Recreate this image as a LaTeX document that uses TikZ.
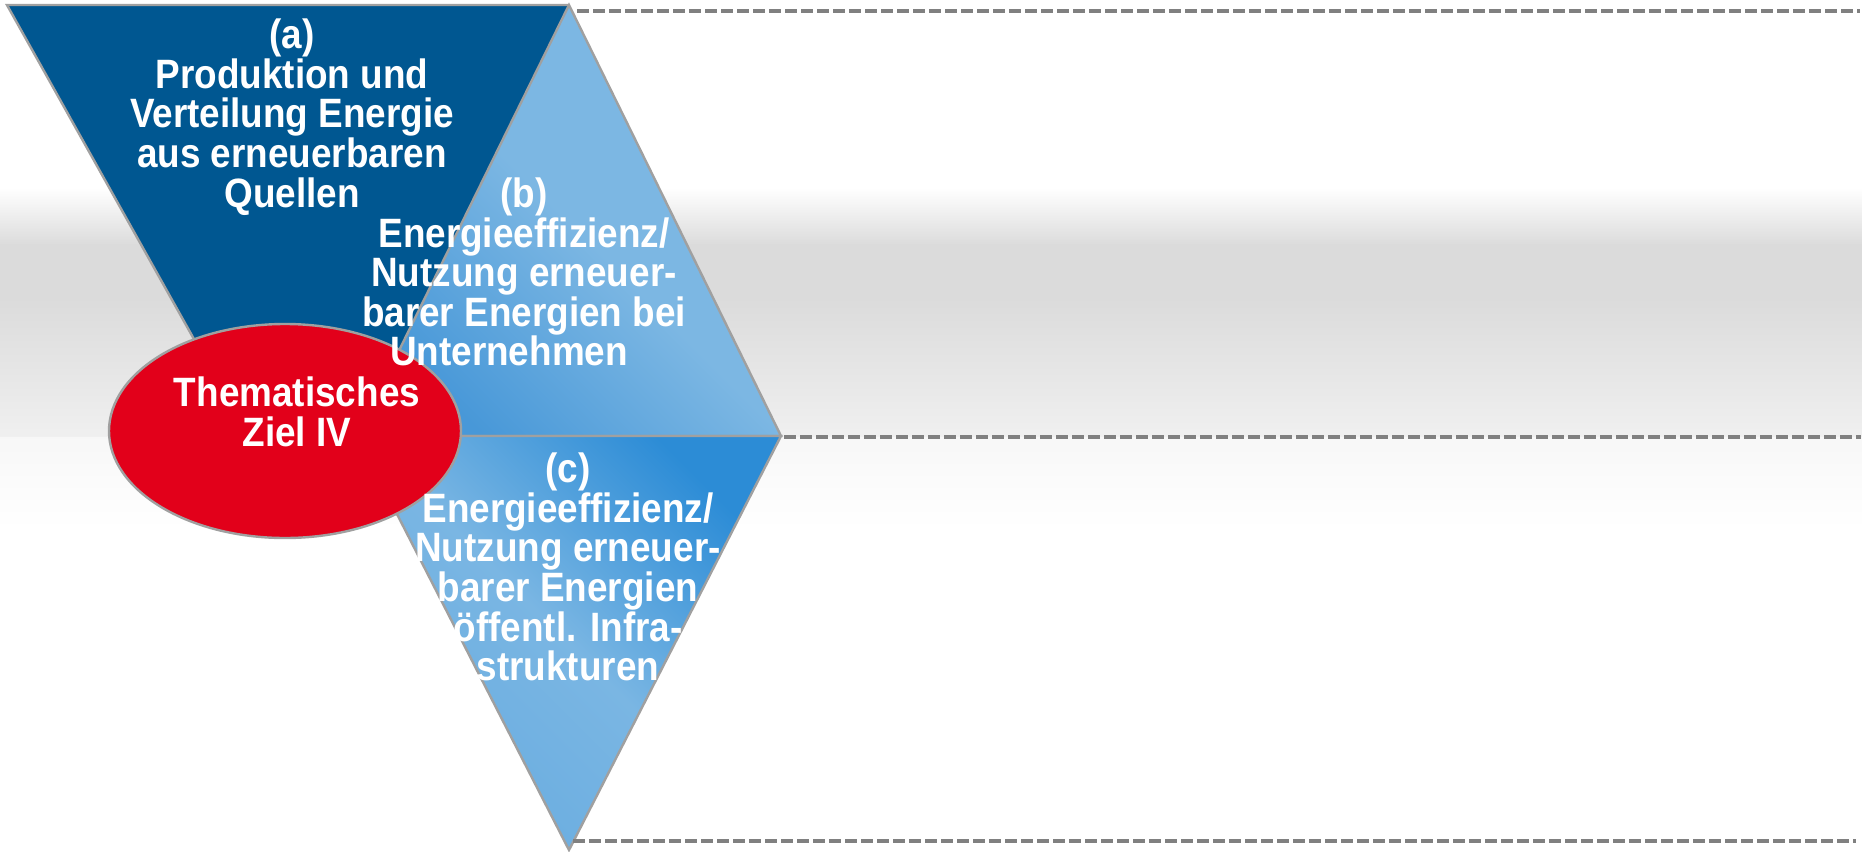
\documentclass[tikz,border=0pt]{standalone}
\usepackage{fontspec}
\newfontfamily\labfont{Liberation Sans}[FakeStretch=0.9]
\usetikzlibrary{shapes.geometric}
\definecolor{adark}{RGB}{0,87,145}
\definecolor{bdark}{RGB}{72,152,216}
\definecolor{blight}{RGB}{124,183,227}
\definecolor{cdark}{RGB}{44,140,214}
\definecolor{clight}{RGB}{122,182,227}
\definecolor{cmid}{RGB}{104,172,224}
\definecolor{zred}{RGB}{226,0,26}
\definecolor{edgegray}{RGB}{160,160,160}
\definecolor{dashgray}{RGB}{128,128,128}
\begin{document}
\begin{tikzpicture}[x=0.5pt,y=-0.5pt,
  shapeedge/.style={draw=edgegray, line width=1.2pt, line join=miter},
  lab/.style={text=white, align=center, font=\labfont\bfseries\fontsize{20.5pt}{19.8pt}\selectfont, inner sep=0pt},
  guide/.style={draw=dashgray, line width=2pt, dash pattern=on 6pt off 2pt}]
\useasboundingbox (0,0) rectangle (1862,851);
% background band
\shade[top color=white, bottom color=black!14] (0,188) rectangle (1862,245);
\fill[black!14] (0,244) rectangle (1862,300);
\shade[top color=black!14, bottom color=black!6] (0,299) rectangle (1862,437);
\shade[top color=black!3, bottom color=white] (0,437) rectangle (1862,530);
% vertices
\coordinate (aL) at (7,5);
\coordinate (top) at (569,5);
\coordinate (mL) at (357,436);
\coordinate (mR) at (781,436);
\coordinate (bot) at (569,850);
\coordinate (aBL) at (284,500);
\coordinate (aBR) at (325,500);
% triangle (a)
\fill[adark] (aL) -- (top) -- (aBR) -- (aBL) -- cycle;
\draw[shapeedge] (aBL) -- (aL) -- (top);
% triangle (b)
\shade[shapeedge, bottom color=bdark, top color=blight, middle color=blight, shading angle=-45] (top) -- (mR) -- (mL) -- cycle;
% triangle (c)
\shade[shapeedge, bottom color=cmid, top color=cdark, middle color=clight, shading angle=-45] (mL) -- (mR) -- (bot) -- cycle;
% ellipse
\node[ellipse, draw=edgegray, line width=1.2pt, fill=zred, minimum width=176pt, minimum height=107pt, inner sep=0pt] (goal) at (285,431) {};
% dashed guides
\coordinate (g1s) at (577,11);
\coordinate (g1e) at (1860,11);
\coordinate (g2s) at (784,437);
\coordinate (g2e) at (1861,437);
\coordinate (g3s) at (573,841);
\coordinate (g3e) at (1856,841);
\draw[guide] (g1s) -- (g1e);
\draw[guide] (g2s) -- (g2e);
\draw[guide] (g3s) -- (g3e);
% labels
\node[lab] (ta) at (292,117) {(a)\\Produktion und\\Verteilung Energie\\aus erneuerbaren\\Quellen};
\node[lab] (tb) at (524,272) {(b)\\Energieeffizienz/\\Nutzung erneuer-\\barer Energien bei\\Unternehmen\hspace*{15pt}};
\node[lab] (tc) at (568,567) {(c)\\Energieeffizienz/\\Nutzung erneuer-\\barer Energien\\öffentl. Infra-\\strukturen};
\node[lab] (tz) at (297,412) {Thematisches\\Ziel IV};
\end{tikzpicture}
\end{document}
